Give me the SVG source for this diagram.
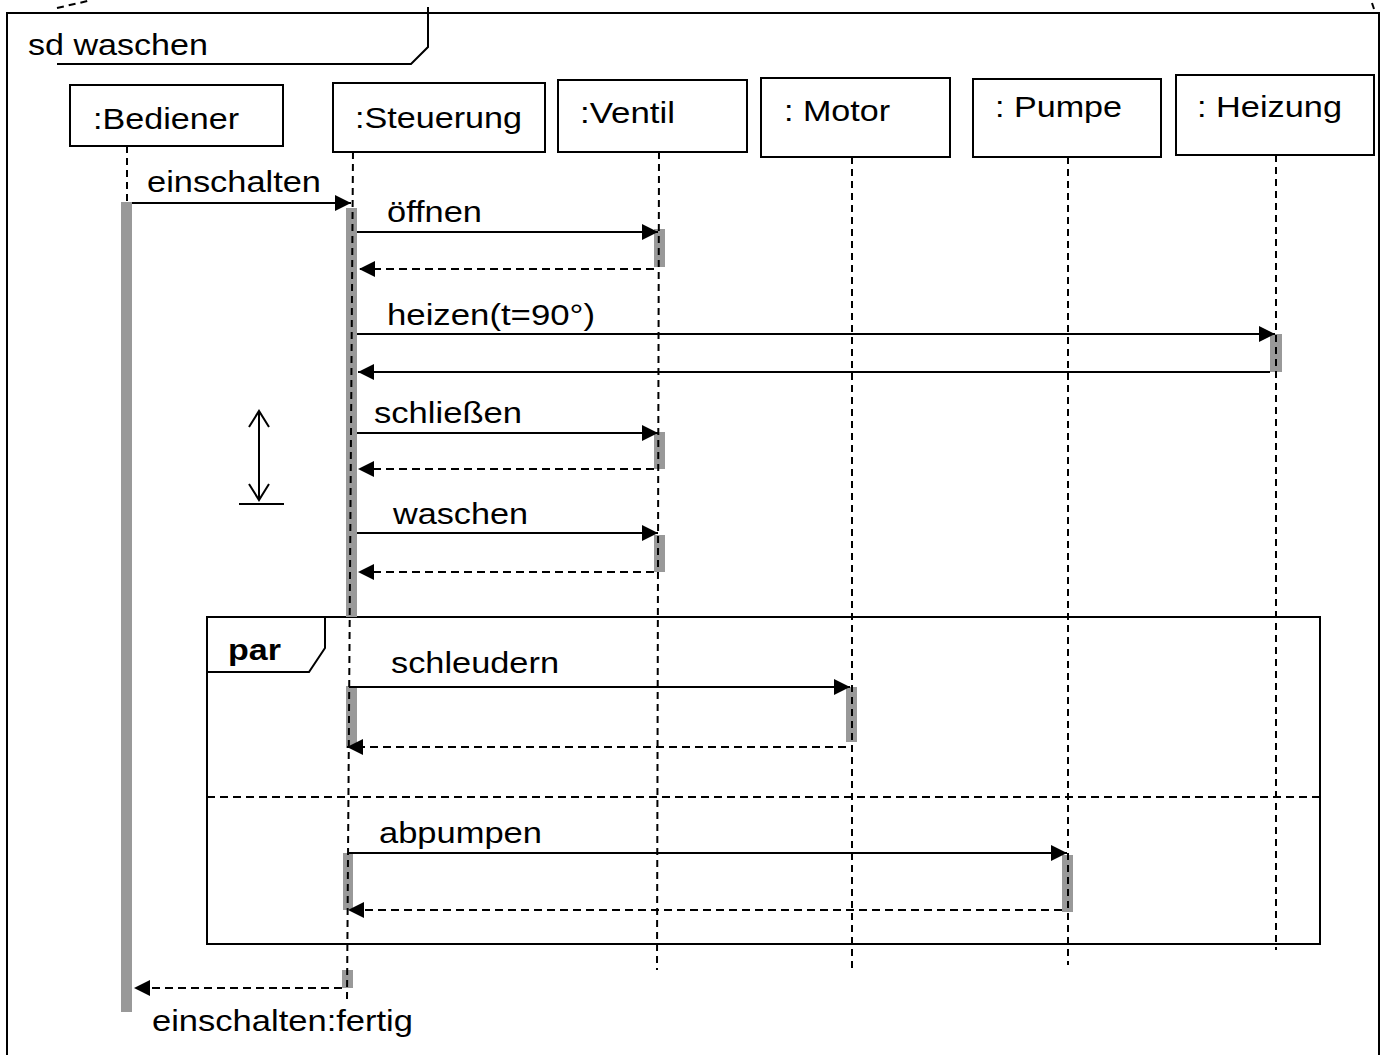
<svg xmlns="http://www.w3.org/2000/svg" width="1388" height="1055" viewBox="0 0 1388 1055">
<style>
text{font-family:"Liberation Sans",Arial,sans-serif;font-size:30px;fill:#000}
.box{fill:#fff;stroke:#000;stroke-width:2}
.life{stroke:#000;stroke-width:2;stroke-dasharray:7 5;fill:none}
.act{fill:#999;stroke:none}
.msg{stroke:#000;stroke-width:2;fill:none}
.ret{stroke:#000;stroke-width:2;stroke-dasharray:8 5;fill:none}
.frame{fill:none;stroke:#000;stroke-width:2}
</style>
<defs>
<marker id="ah" markerUnits="userSpaceOnUse" markerWidth="18" markerHeight="16" refX="16" refY="8" orient="auto">
<path d="M0,0 L16,8 L0,16 z" fill="#000"/>
</marker>
</defs>
<rect width="1388" height="1055" fill="#fff"/>

<g id="frame">
<path class="frame" d="M7,1060 V13 H1379 V1060"/>
<path class="frame" d="M428,7 V47 L411,64 H57"/>
<path d="M57,8 L92,0" stroke="#000" stroke-width="2" stroke-dasharray="7 5"/>
<path d="M1372,3 L1374,9" stroke="#000" stroke-width="2"/>
<text x="28" y="55" textLength="180" lengthAdjust="spacingAndGlyphs">sd waschen</text>
</g>

<g id="par">
<rect class="frame" x="207" y="617" width="1113" height="327"/>
<path class="frame" d="M207,672 H309 L325,648 V617"/>
<text x="228" y="660" font-weight="bold" textLength="53" lengthAdjust="spacingAndGlyphs">par</text>
<path d="M207,797 H1320" stroke="#000" stroke-width="2" stroke-dasharray="8 5"/>
</g>

<g id="bediener">
<rect class="box" x="70" y="85" width="213" height="61"/>
<text x="93" y="129" textLength="146" lengthAdjust="spacingAndGlyphs">:Bediener</text>
<path class="life" d="M127,146 V202"/>
<rect class="act" x="121" y="202" width="11" height="810"/>
</g>

<g id="steuerung">
<rect class="box" x="333" y="83" width="212" height="69"/>
<text x="355" y="128" textLength="167" lengthAdjust="spacingAndGlyphs">:Steuerung</text>
<rect class="act" x="346" y="208" width="11" height="409"/>
<rect class="act" x="346" y="686" width="11" height="62"/>
<rect class="act" x="343" y="853" width="10" height="57"/>
<rect class="act" x="342" y="970" width="11" height="18"/>
<path class="life" d="M353,152 L347,1000"/>
</g>

<g id="ventil">
<rect class="box" x="558" y="80" width="189" height="72"/>
<text x="580" y="123" textLength="95" lengthAdjust="spacingAndGlyphs">:Ventil</text>
<rect class="act" x="654" y="229" width="11" height="38"/>
<rect class="act" x="654" y="432" width="11" height="37"/>
<rect class="act" x="654" y="535" width="11" height="37"/>
<path class="life" d="M659,152 L657,970"/>
</g>

<g id="motor">
<rect class="box" x="761" y="78" width="189" height="79"/>
<text x="784" y="121" textLength="106" lengthAdjust="spacingAndGlyphs">: Motor</text>
<rect class="act" x="846" y="687" width="11" height="55"/>
<path class="life" d="M852,157 V970"/>
</g>

<g id="pumpe">
<rect class="box" x="973" y="79" width="188" height="78"/>
<text x="995" y="117" textLength="127" lengthAdjust="spacingAndGlyphs">: Pumpe</text>
<rect class="act" x="1062" y="855" width="11" height="57"/>
<path class="life" d="M1068,157 V965"/>
</g>

<g id="heizung">
<rect class="box" x="1176" y="75" width="198" height="80"/>
<text x="1197" y="117" textLength="145" lengthAdjust="spacingAndGlyphs">: Heizung</text>
<rect class="act" x="1270" y="334" width="12" height="38"/>
<path class="life" d="M1276,155 V950"/>
</g>

<g id="timing">
<path d="M259,412 V499" stroke="#000" stroke-width="2" fill="none"/>
<path d="M249,427 L259,411 L269,427" stroke="#000" stroke-width="2" fill="none"/>
<path d="M249,484 L259,500 L269,484" stroke="#000" stroke-width="2" fill="none"/>
<path d="M239,504 H284" stroke="#000" stroke-width="2"/>
</g>

<g id="connectors">
<path class="msg" d="M132,203 H351" marker-end="url(#ah)"/>
<text x="147" y="192" textLength="174" lengthAdjust="spacingAndGlyphs">einschalten</text>

<path class="msg" d="M357,232 H658" marker-end="url(#ah)"/>
<text x="387" y="222" textLength="95" lengthAdjust="spacingAndGlyphs">öffnen</text>
<path class="ret" d="M654,269 H359" marker-end="url(#ah)"/>

<path class="msg" d="M357,334 H1275" marker-end="url(#ah)"/>
<text x="387" y="325" textLength="208" lengthAdjust="spacingAndGlyphs">heizen(t=90°)</text>
<path class="msg" d="M1270,372 H358" marker-end="url(#ah)"/>

<path class="msg" d="M357,433 H658" marker-end="url(#ah)"/>
<text x="374" y="423" textLength="148" lengthAdjust="spacingAndGlyphs">schließen</text>
<path class="ret" d="M654,469 H358" marker-end="url(#ah)"/>

<path class="msg" d="M357,533 H658" marker-end="url(#ah)"/>
<text x="393" y="524" textLength="135" lengthAdjust="spacingAndGlyphs">waschen</text>
<path class="ret" d="M654,572 H358" marker-end="url(#ah)"/>

<path class="msg" d="M349,687 H850" marker-end="url(#ah)"/>
<text x="391" y="673" textLength="168" lengthAdjust="spacingAndGlyphs">schleudern</text>
<path class="ret" d="M846,747 H347" marker-end="url(#ah)"/>

<path class="msg" d="M348,853 H1067" marker-end="url(#ah)"/>
<text x="379" y="843" textLength="163" lengthAdjust="spacingAndGlyphs">abpumpen</text>
<path class="ret" d="M1062,910 H348" marker-end="url(#ah)"/>

<path class="ret" d="M342,988 H134" marker-end="url(#ah)"/>
<text x="152" y="1031" textLength="261" lengthAdjust="spacingAndGlyphs">einschalten:fertig</text>
</g>
</svg>
